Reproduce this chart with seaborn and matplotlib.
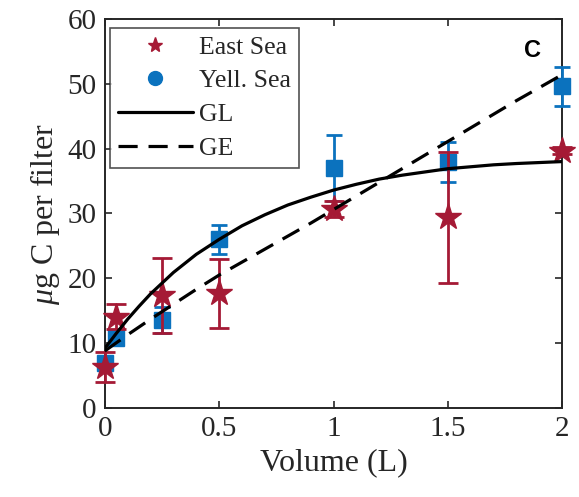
import matplotlib
matplotlib.use("Agg")
import matplotlib.pyplot as plt
from matplotlib.lines import Line2D
import seaborn as sns
import pandas as pd

# ---- data ----
east_x = [0, 0.05, 0.25, 0.5, 1.0, 1.5, 2.0]
east_y = [6.3, 14.1, 17.4, 17.7, 30.7, 29.4, 39.7]
east_err = [2.3, 1.95, 5.8, 5.3, 1.2, 10.1, 0.5]

yell_x = [0, 0.05, 0.25, 0.5, 1.0, 1.5, 2.0]
yell_y = [7.0, 10.8, 13.6, 26.0, 37.0, 37.9, 49.6]
yell_err = [0.8, 1.0, 2.0, 2.2, 5.1, 3.1, 3.0]

fit_x = [0, 0.05, 0.1, 0.15, 0.2, 0.3, 0.4, 0.5, 0.6, 0.7, 0.8, 0.9, 1.0,
         1.1, 1.2, 1.3, 1.4, 1.5, 1.6, 1.7, 1.8, 1.9, 2.0]
gl_y = [9.2, 11.5, 13.7, 15.7, 17.6, 20.9, 23.7, 26.0, 28.1, 29.8, 31.3, 32.5, 33.6,
        34.5, 35.3, 35.9, 36.4, 36.9, 37.2, 37.5, 37.7, 37.85, 38.0]
ge_y = [8.8, 10.05, 11.3, 12.5, 13.7, 16.0, 18.3, 20.5, 22.5, 24.5, 26.5, 28.5, 30.6,
        32.7, 34.8, 36.9, 39.0, 41.1, 43.2, 45.3, 47.4, 49.4, 51.4]

x_ticks = [0, 0.5, 1, 1.5, 2]
x_tick_labels = ["0", "0.5", "1", "1.5", "2"]
y_ticks = [0, 10, 20, 30, 40, 50, 60]

RED = "#A51A35"
BLUE = "#0B72BE"
DASH = (6, 3.4)

sns.set_theme(style="white")
plt.rcParams["font.family"] = ["Liberation Serif", "DejaVu Serif"]
plt.rcParams["mathtext.fontset"] = "custom"
plt.rcParams["mathtext.it"] = "Liberation Serif:italic"
plt.rcParams["mathtext.rm"] = "Liberation Serif"

fig = plt.figure(figsize=(5.79, 4.97), dpi=100)
ax = fig.add_axes([0.181, 0.179, 0.790, 0.783])

fits = pd.DataFrame({"x": fit_x + fit_x,
                     "y": gl_y + ge_y,
                     "fit": ["GL"] * len(fit_x) + ["GE"] * len(fit_x)})

# data with error bars
eb1 = ax.errorbar(yell_x, yell_y, yerr=yell_err, fmt="s", color=BLUE, ms=11,
                  mec=BLUE, mfc=BLUE, elinewidth=2, capsize=6, capthick=2, zorder=3)
eb2 = ax.errorbar(east_x, east_y, yerr=east_err, fmt="*", color=RED, ms=20,
                  mec=RED, mfc=RED, elinewidth=2, capsize=7, capthick=2, zorder=4)
for eb in (eb1, eb2):
    for art in eb.get_children():
        art.set_clip_on(False)

sns.lineplot(data=fits, x="x", y="y", style="fit", color="black",
             dashes={"GL": "", "GE": DASH}, linewidth=2.3,
             ax=ax, legend=False, zorder=5)

ax.set_xlim(0, 2)
ax.set_ylim(0, 60)
ax.set_xticks(x_ticks)
ax.set_xticklabels(x_tick_labels)
ax.set_yticks(y_ticks)
ax.tick_params(direction="in", length=5, width=1.2, top=True, right=True,
               bottom=True, left=True,
               labelsize=21, colors="#262626", pad=6)
for s in ax.spines.values():
    s.set_linewidth(1.4)
    s.set_color("#262626")
    s.set_visible(True)

ax.set_xlabel("Volume (L)", fontsize=23, color="#262626", labelpad=4)
ax.set_ylabel(r"$\mu$g C per filter", fontsize=23, color="#262626", labelpad=4)

ax.text(1.87, 55.2, "C", fontsize=17, fontweight="bold", family="Liberation Sans",
        ha="center", va="center", color="black")

handles = [
    Line2D([], [], linestyle="none", marker="*", color=RED, ms=11),
    Line2D([], [], linestyle="none", marker="o", color=BLUE, ms=10),
    Line2D([], [], color="black", lw=2.3),
    Line2D([], [], color="black", lw=2.3, dashes=DASH),
]
leg = ax.legend(handles, ["East Sea", "Yell. Sea", "GL", "GE"],
                loc="upper left", bbox_to_anchor=(0.012, 0.977), borderaxespad=0,
                fontsize=18.5, frameon=True, fancybox=False, handlelength=2.9,
                handletextpad=0.25, labelspacing=0.42, borderpad=0.3)
leg.get_frame().set_edgecolor("#262626")
leg.get_frame().set_linewidth(1.2)
for t in leg.get_texts():
    t.set_color("#262626")

fig.savefig("out.png", dpi=100)
